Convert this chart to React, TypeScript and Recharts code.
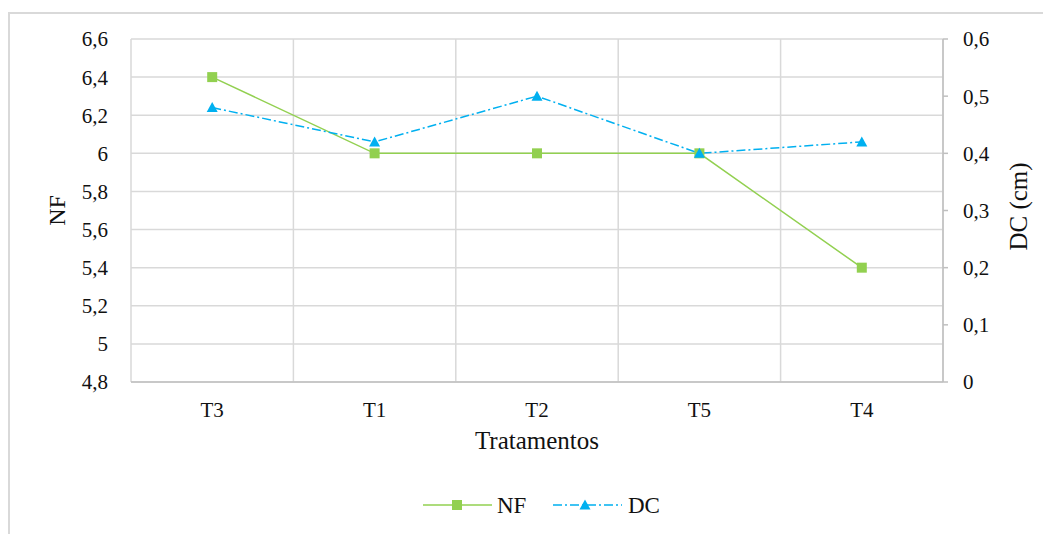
import { ComposedChart, Line, XAxis, YAxis, CartesianGrid } from 'recharts'

const categories = ['T3', 'T1', 'T2', 'T5', 'T4']
const nfValues = [6.4, 6, 6, 6, 5.4]
const dcValues = [0.48, 0.42, 0.5, 0.4, 0.42]
const nfTicks = [4.8, 5, 5.2, 5.4, 5.6, 5.8, 6, 6.2, 6.4, 6.6]
const dcTicks = [0, 0.1, 0.2, 0.3, 0.4, 0.5, 0.6]

const data = categories.map((c, i) => ({ name: c, NF: nfValues[i], DC: dcValues[i] }))

const FONT = 'Liberation Serif'
const GREEN = '#92D050'
const BLUE = '#00B0F0'
const GRID = '#d9d9d9'
const AXIS = '#bfbfbf'
const TICK = 21

const fmt = (v: number) => String(v).replace('.', ',')

// marcador quadrado (NF)
const SquareDot = (p: any) => {
  if (p.cx == null || p.cy == null) return <g key={p.index} />
  return <rect key={p.index} x={p.cx - 5} y={p.cy - 5} width={10} height={10} fill={GREEN} />
}

// marcador triangulo (DC)
const TriangleDot = (p: any) => {
  if (p.cx == null || p.cy == null) return <g key={p.index} />
  const { cx, cy } = p
  return <path key={p.index} d={`M${cx},${cy - 5.5} L${cx + 5.5},${cy + 4.5} L${cx - 5.5},${cy + 4.5} Z`} fill={BLUE} />
}

const tickStyle = { fill: '#111', fontSize: TICK, fontFamily: FONT, style: { fontFamily: FONT } }

export default function App() {
  return (
    <div style={{ position: 'relative', width: 1043, height: 526, fontFamily: FONT, overflow: 'hidden' }}>
      {/* moldura */}
      <div
        style={{
          position: 'absolute',
          left: 0,
          top: 4,
          width: 1200,
          height: 800,
          borderLeft: `2px solid ${GRID}`,
          borderTop: `2px solid ${GRID}`,
          boxSizing: 'border-box',
        }}
      />
      <div style={{ position: 'absolute', left: 0, top: 0 }}>
        <ComposedChart
          width={1043}
          height={526}
          data={data}
          margin={{ top: 31, right: 0, bottom: 122, left: 0 }}
          style={{ fontFamily: FONT }}
        >
          <CartesianGrid
            yAxisId="left"
            stroke={GRID}
            strokeWidth={1.5}
            verticalCoordinatesGenerator={({ offset }: any) =>
              [0, 1, 2, 3, 4, 5].map((i) => offset.left + (i * offset.width) / 5)
            }
          />
          <XAxis
            dataKey="name"
            scale="band"
            height={30}
            tickLine={false}
            tickSize={0}
            tickMargin={20}
            axisLine={{ stroke: AXIS, strokeWidth: 1.5 }}
            tick={tickStyle}
            label={({ viewBox }: any) => (
              <text x={viewBox.x + viewBox.width / 2} y={441} textAnchor="middle" fontSize={25} style={{ fontFamily: FONT }} fill="#111">
                Tratamentos
              </text>
            )}
          />
          <YAxis
            yAxisId="left"
            orientation="left"
            width={123}
            domain={[4.8, 6.6]}
            ticks={nfTicks}
            tickFormatter={fmt}
            axisLine={false}
            tickLine={false}
            tickSize={0}
            tickMargin={23}
            tick={tickStyle}
            label={({ viewBox }: any) => (
              <text
                x={57}
                y={viewBox.y + viewBox.height / 2}
                transform={`rotate(-90, 57, ${viewBox.y + viewBox.height / 2})`}
                textAnchor="middle"
                fontSize={24}
                style={{ fontFamily: FONT }}
                fill="#111"
              >
                NF
              </text>
            )}
          />
          <YAxis
            yAxisId="right"
            orientation="right"
            width={108}
            domain={[0, 0.6]}
            ticks={dcTicks}
            tickFormatter={fmt}
            axisLine={{ stroke: AXIS, strokeWidth: 1.5 }}
            tickLine={{ stroke: AXIS, strokeWidth: 1.5 }}
            tickSize={5}
            tickMargin={15}
            tick={{ ...tickStyle, textAnchor: 'start' }}
            label={({ viewBox }: any) => (
              <text
                x={1019}
                y={viewBox.y + viewBox.height / 2 - 4}
                transform={`rotate(-90, 1019, ${viewBox.y + viewBox.height / 2 - 4})`}
                textAnchor="middle"
                fontSize={25}
                style={{ fontFamily: FONT }}
                fill="#111"
              >
                DC (cm)
              </text>
            )}
          />
          <Line
            yAxisId="left"
            dataKey="NF"
            stroke={GREEN}
            strokeWidth={1.5}
            dot={SquareDot}
            activeDot={false}
            isAnimationActive={false}
          />
          <Line
            yAxisId="right"
            dataKey="DC"
            stroke={BLUE}
            strokeWidth={1.5}
            strokeDasharray="9 3 2 3"
            dot={TriangleDot}
            activeDot={false}
            isAnimationActive={false}
          />
        </ComposedChart>
      </div>
      {/* legenda */}
      <svg style={{ position: 'absolute', left: 0, top: 0, fontFamily: FONT }} width={1043} height={526}>
        <line x1={415} y1={497} x2={484} y2={497} stroke={GREEN} strokeWidth={1.5} />
        <rect x={444} y={492} width={10} height={10} fill={GREEN} />
        <text x={489} y={505} fontSize={23} fill="#111">NF</text>
        <line x1={545} y1={497} x2={614} y2={497} stroke={BLUE} strokeWidth={1.5} strokeDasharray="9 3 2 3" />
        <path d="M577,491.5 L582.5,501.5 L571.5,501.5 Z" fill={BLUE} />
        <text x={620} y={505} fontSize={23} fill="#111">DC</text>
      </svg>
    </div>
  )
}
